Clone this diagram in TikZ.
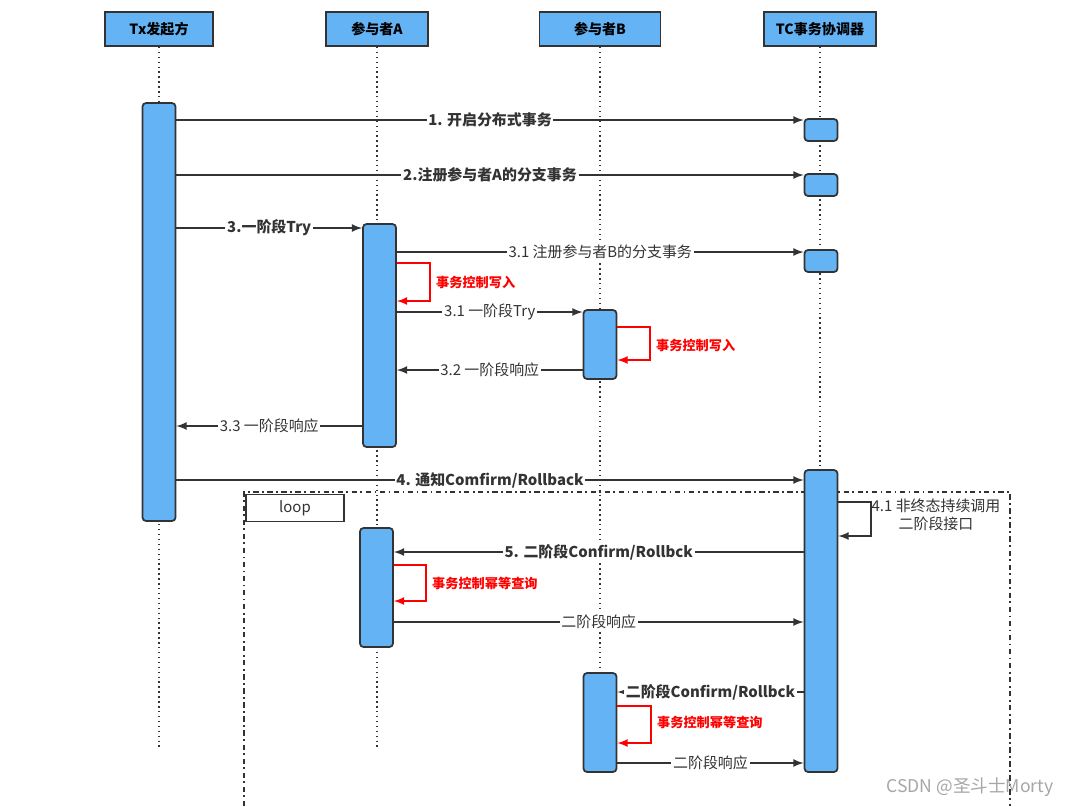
\documentclass[tikz,border=0pt]{standalone}
\usepackage{fontspec}
\setmainfont{Noto Sans CJK SC}
\usetikzlibrary{arrows}
\definecolor{act_blue}{RGB}{99, 179, 245}
\definecolor{line_gray}{RGB}{51, 51, 51}
\tikzstyle{head}=[rectangle,fill=act_blue,draw=line_gray,line width=1pt,
  minimum height=0.68cm,inner sep=0pt,font=\fontsize{8}{9}\selectfont\bfseries]
\tikzstyle{act}=[rectangle,rounded corners=2pt,fill=act_blue,draw=line_gray,
  line width=1pt,minimum width=0.66cm,inner sep=0pt]
\tikzstyle{msg}=[draw=line_gray,line width=1pt,-latex]
\tikzstyle{lbl}=[fill=white,inner sep=1pt,font=\fontsize{8.5}{10}\selectfont,text=line_gray]
\tikzstyle{blbl}=[lbl,font=\fontsize{8.5}{10}\selectfont\bfseries]
\tikzstyle{self}=[draw=red,line width=1pt,-latex]
\tikzstyle{rlbl}=[text=red,font=\fontsize{7.5}{9}\selectfont\bfseries,anchor=west]
\tikzstyle{life}=[draw=line_gray,dotted,line width=0.8pt]

\begin{document}
\begin{tikzpicture}[x=0.02cm,y=-0.02cm]
  \useasboundingbox (0,0) rectangle (1075,806);
  % heads and lifelines
  \node [head,minimum width=2.16cm] (tx) at (159,29) {Tx发起方};
  \node [head,minimum width=2.04cm] (pa) at (377,29) {参与者A};
  \node [head,minimum width=2.42cm] (pb) at (600,29) {参与者B};
  \node [head,minimum width=2.24cm] (tc) at (820,29) {TC事务协调器};
  \foreach \n in {tx,pa,pb,tc}
    \draw [life] (\n.south) -- (\n.south |- 0,750);
  % loop frame
  \draw [line_gray,line width=1pt,dash dot] (244,806) -- (244,492) -- (1010,492) -- (1010,806);
  \node [draw=line_gray,line width=1pt,fill=white,minimum width=1.96cm,minimum height=0.5cm,
    font=\fontsize{8.5}{10}\selectfont,text=line_gray] (loop) at (295,508) {loop};
  % activations
  \node [act,minimum height=8.36cm] (tx1) at (159,312) {};
  \node [act,minimum height=0.44cm] (tc1) at (821,130) {};
  \node [act,minimum height=0.44cm] (tc2) at (821,185) {};
  \node [act,minimum height=0.44cm] (tc3) at (821,261) {};
  \node [act,minimum height=4.46cm] (a1) at (379.5,335.5) {};
  \node [act,minimum height=1.38cm] (b1) at (600,344.5) {};
  \node [act,minimum height=6.04cm] (tc4) at (821,621) {};
  \node [act,minimum height=2.38cm] (a2) at (376.5,587.5) {};
  \node [act,minimum height=1.98cm] (b2) at (600,722.5) {};
  % phase one
  \draw [msg] (tx1.east |- 0,120) -- node [blbl] {1. 开启分布式事务} (tc1.west |- 0,120);
  \draw [msg] (tx1.east |- 0,175) -- node [blbl] {2.注册参与者A的分支事务} (tc2.west |- 0,175);
  \draw [msg] (tx1.east |- 0,228) -- node [blbl] {3.一阶段Try} (a1.west |- 0,228);
  \draw [msg] (a1.east |- 0,252) -- node [lbl] {3.1 注册参与者B的分支事务} (tc3.west |- 0,252);
  \draw [self] (a1.east |- 0,263) -| (430,282) |- (a1.east |- 0,301);
  \node [rlbl] (w1) at (430,282) {事务控制写入};
  \draw [msg] (a1.east |- 0,312) -- node [lbl] {3.1 一阶段Try} (b1.west |- 0,312);
  \draw [self] (b1.east |- 0,327) -| (650,344) |- (b1.east |- 0,360);
  \node [rlbl] (w2) at (650,345) {事务控制写入};
  \draw [msg] (b1.west |- 0,370) -- node [lbl] {3.2 一阶段响应} (a1.east |- 0,370);
  \draw [msg] (a1.west |- 0,426) -- node [lbl] {3.3 一阶段响应} (tx1.east |- 0,426);
  % phase two
  \draw [msg] (tx1.east |- 0,480) -- node [blbl] {4. 通知Comfirm/Rollback} (tc4.west |- 0,480);
  \draw [msg] (tc4.east |- 0,502) -| (871,519) |- (tc4.east |- 0,536);
  \node [font=\fontsize{8.5}{10}\selectfont,text=line_gray,align=center] (n41) at (936,515) {4.1 非终态持续调用\\二阶段接口};
  \draw [msg] (tc4.west |- 0,552) -- node [blbl] {5. 二阶段Confirm/Rollbck} (a2.east |- 0,552);
  \draw [self] (a2.east |- 0,565) -| (426,583) |- (a2.east |- 0,601);
  \node [rlbl] (w3) at (426,583) {事务控制幂等查询};
  \draw [msg] (a2.east |- 0,622) -- node [lbl] {二阶段响应} (tc4.west |- 0,622);
  \draw [msg] (tc4.west |- 0,692) -- node [blbl] {二阶段Confirm/Rollbck} (b2.east |- 0,692);
  \draw [self] (b2.east |- 0,706) -| (651,724) |- (b2.east |- 0,743);
  \node [rlbl] (w4) at (651,722) {事务控制幂等查询};
  \draw [msg] (b2.east |- 0,763) -- node [lbl] {二阶段响应} (tc4.west |- 0,763);
  \node [text=gray!70,font=\fontsize{10}{12}\selectfont] (mark) at (970,787) {CSDN @圣斗士Morty};
\end{tikzpicture}
\end{document}
